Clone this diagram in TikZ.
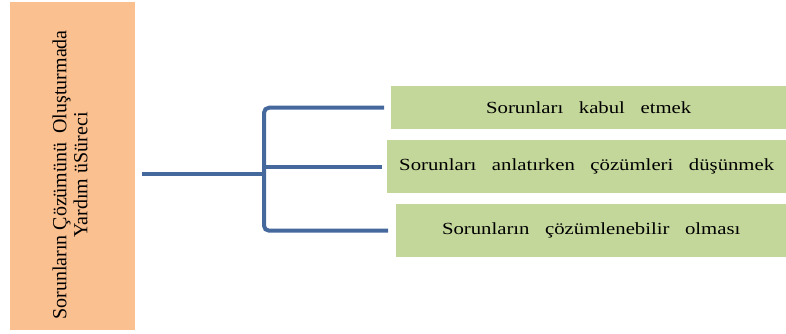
\documentclass[tikz,border=0pt]{standalone}
\usepackage{fontspec}
\setmainfont{Liberation Serif}
\newfontfamily\boxfont[FakeStretch=1.22,WordSpace=3.0]{Liberation Serif}
\definecolor{orangefill}{HTML}{FAC090}
\definecolor{greenfill}{HTML}{C4D79B}
\definecolor{linkblue}{HTML}{45699C}
\begin{document}
\begin{tikzpicture}[x=1pt,y=-1pt,
  mainbox/.style={fill=orangefill, draw=none, minimum width=125pt, minimum height=328pt, anchor=north west, inner sep=0pt},
  leaf/.style={fill=greenfill, draw=none, anchor=north west, inner sep=0pt, font=\boxfont\fontsize{17}{20}\selectfont},
  conn/.style={draw=linkblue, line width=4pt, line cap=butt}
]
\useasboundingbox (0,0) rectangle (786,333);
\node[mainbox] (main) at (10,2) {};
\node[rotate=90, align=center, font=\fontsize{20}{21}\selectfont] (mainlabel) at (70,175) {Sorunların Çözümünü\hspace{4pt} Oluşturmada\\Yardım üSüreci};

\node[leaf, minimum width=395pt, minimum height=43pt] (b1) at (391,86) {Sorunları kabul etmek};
\node[leaf, minimum width=399pt, minimum height=53pt] (b2) at (387,140) {Sorunları anlatırken çözümleri düşünmek};
\node[leaf, minimum width=390pt, minimum height=53pt] (b3) at (396,204) {Sorunların çözümlenebilir olması};

\coordinate (s) at (142,174);
\coordinate (j) at (264,174);
\draw[conn] (s) -- (j);
\draw[conn, rounded corners=5pt, shorten >=7pt] (j) |- (b1.west);
\draw[conn, rounded corners=5pt, shorten >=8pt] (j) |- (b3.west);
\draw[conn, shorten >=5pt] (j |- b2.west) -- (b2.west);
\end{tikzpicture}
\end{document}
